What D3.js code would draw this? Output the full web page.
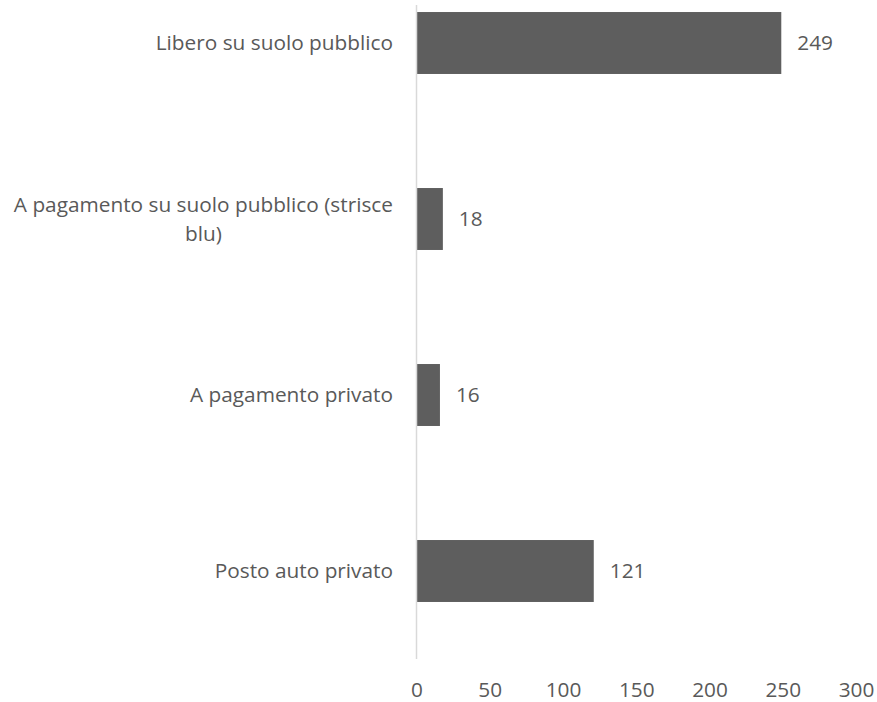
<!DOCTYPE html>
<html lang="it">
<head>
<meta charset="UTF-8">
<title>Parcheggio</title>
<script src="https://cdn.jsdelivr.net/npm/d3@7"></script>
<style>
  body { margin: 0; background: #fff; }
  text { font-family: "Open Sans", sans-serif; fill: #595959; }
</style>
</head>
<body>
<script>
// dati
var categories = ["Libero su suolo pubblico", "A pagamento su suolo pubblico (strisce blu)", "A pagamento privato", "Posto auto privato"];
var values = [249, 18, 16, 121];
var xTicks = [0, 50, 100, 150, 200, 250, 300];

var width = 877, height = 702;
var left = 416.5, right = 856;
var fs = "20.8px";

var svg = d3.select("body").append("svg")
    .attr("width", width)
    .attr("height", height);

var x = d3.scaleLinear().domain([0, 300]).range([left, right]);
var y = d3.scaleBand().domain(categories).range([-45, 659])
    .paddingInner(0.648).paddingOuter(0.324);

// barre
svg.selectAll("rect.bar")
    .data(values)
    .enter()
    .append("rect")
    .attr("class", "bar")
    .attr("x", x(0))
    .attr("y", function (d, i) { return y(categories[i]); })
    .attr("width", function (d) { return x(d) - x(0); })
    .attr("height", y.bandwidth())
    .attr("fill", "#5e5e5e");

// asse verticale
svg.append("line")
    .attr("x1", x(0)).attr("x2", x(0))
    .attr("y1", 5).attr("y2", 659)
    .attr("stroke", "#d9d9d9")
    .attr("stroke-width", 1.5);

// etichette valori
svg.selectAll("text.val")
    .data(values)
    .enter()
    .append("text")
    .attr("class", "val")
    .attr("x", function (d) { return x(d) + 16; })
    .attr("y", function (d, i) { return y(categories[i]) + y.bandwidth() / 2; })
    .attr("dy", "0.35em")
    .style("font-size", fs)
    .text(function (d) { return d; });

// asse x
var xAxis = d3.axisBottom(x).tickValues(xTicks).tickSize(0).tickPadding(0);
var gx = svg.append("g")
    .attr("transform", "translate(0,690)")
    .call(xAxis);
gx.select(".domain").remove();
gx.selectAll("text")
    .attr("dy", "0.35em")
    .style("font-size", fs)
    .style("font-family", "'Open Sans', sans-serif")
    .attr("fill", "#595959");

// etichette categorie (con a capo)
var maxW = 392, lineH = 29;
categories.forEach(function (c) {
    var t = svg.append("text")
        .attr("text-anchor", "middle")
        .style("font-size", fs);
    var words = c.split(" "), lines = [], cur = [];
    var probe = svg.append("text").style("font-size", fs);
    words.forEach(function (w) {
        cur.push(w);
        probe.text(cur.join(" "));
        if (probe.node().getComputedTextLength() > maxW && cur.length > 1) {
            cur.pop();
            lines.push(cur.join(" "));
            cur = [w];
        }
    });
    lines.push(cur.join(" "));
    // larghezza massima per allineare a destra
    var wMax = 0;
    lines.forEach(function (l) {
        probe.text(l);
        wMax = Math.max(wMax, probe.node().getComputedTextLength());
    });
    probe.remove();
    var cx = 393 - wMax / 2;
    var cy = y(c) + y.bandwidth() / 2 - (lines.length - 1) * lineH / 2;
    lines.forEach(function (l, i) {
        t.append("tspan")
            .attr("x", cx)
            .attr("y", cy + i * lineH)
            .attr("dy", "0.35em")
            .text(l);
    });
});
</script>
</body>
</html>
